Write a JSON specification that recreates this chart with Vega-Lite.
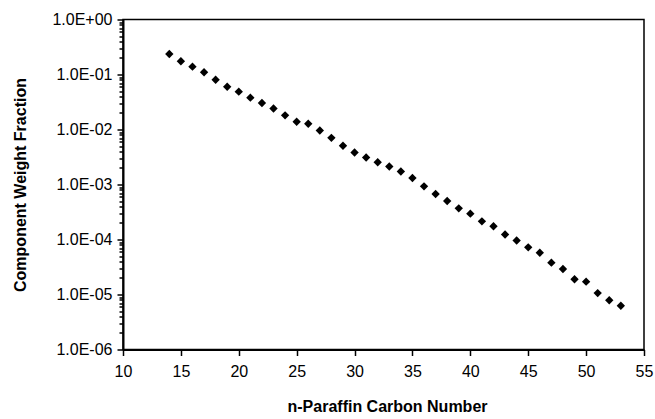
{
  "$schema": "https://vega.github.io/schema/vega-lite/v6.json",
  "width": 521,
  "height": 330,
  "autosize": {"type": "none"},
  "padding": {"left": 123, "top": 19.5, "right": 11, "bottom": 69.5},
  "background": "white",
  "config": {
    "view": {"stroke": "black", "strokeWidth": 1.5},
    "font": "Liberation Sans"
  },
  "data": {
    "values": [
      {"n": 14, "w": 0.236}, {"n": 15, "w": 0.174}, {"n": 16, "w": 0.139},
      {"n": 17, "w": 0.110}, {"n": 18, "w": 0.0804}, {"n": 19, "w": 0.060},
      {"n": 20, "w": 0.0487}, {"n": 21, "w": 0.0379}, {"n": 22, "w": 0.0303},
      {"n": 23, "w": 0.0241}, {"n": 24, "w": 0.0181}, {"n": 25, "w": 0.01386},
      {"n": 26, "w": 0.01274}, {"n": 27, "w": 0.00959}, {"n": 28, "w": 0.00706},
      {"n": 29, "w": 0.00507}, {"n": 30, "w": 0.00382}, {"n": 31, "w": 0.00310},
      {"n": 32, "w": 0.00254}, {"n": 33, "w": 0.00212}, {"n": 34, "w": 0.00172},
      {"n": 35, "w": 0.00131}, {"n": 36, "w": 0.000927}, {"n": 37, "w": 0.000671},
      {"n": 38, "w": 0.000501}, {"n": 39, "w": 0.000369}, {"n": 40, "w": 0.000295},
      {"n": 41, "w": 0.000214}, {"n": 42, "w": 0.000174}, {"n": 43, "w": 0.000123},
      {"n": 44, "w": 0.0000959}, {"n": 45, "w": 0.0000721}, {"n": 46, "w": 0.0000575},
      {"n": 47, "w": 0.0000379}, {"n": 48, "w": 0.0000291}, {"n": 49, "w": 0.0000189},
      {"n": 50, "w": 0.0000171}, {"n": 51, "w": 0.0000106}, {"n": 52, "w": 0.00000785},
      {"n": 53, "w": 0.00000625}
    ]
  },
  "mark": {"type": "point", "shape": "diamond", "filled": true, "color": "black", "size": 70, "opacity": 1},
  "encoding": {
    "x": {
      "field": "n",
      "type": "quantitative",
      "scale": {"domain": [10, 55], "nice": false, "zero": false},
      "axis": {
        "title": "n-Paraffin Carbon Number",
        "values": [10, 15, 20, 25, 30, 35, 40, 45, 50, 55],
        "grid": false,
        "domainColor": "black",
        "domainWidth": 2,
        "tickColor": "black",
        "tickWidth": 1.5,
        "tickSize": 6,
        "labelFontSize": 16,
        "labelColor": "black",
        "labelPadding": 8,
        "labelFlush": false,
        "labelOverlap": false,
        "titleFontSize": 16,
        "titleFontWeight": "bold",
        "titleColor": "black",
        "titleX": 264,
        "titleY": 49,
        "titleBaseline": "top",
        "titleAlign": "center"
      }
    },
    "y": {
      "field": "w",
      "type": "quantitative",
      "scale": {"type": "log", "domain": [0.000001, 1], "nice": false},
      "axis": {
        "title": "Component Weight Fraction",
        "values": [0.000001, 0.000002, 0.000003, 0.000004, 0.000005, 0.000006, 0.000007, 0.000008, 0.000009,
                   0.00001, 0.00002, 0.00003, 0.00004, 0.00005, 0.00006, 0.00007, 0.00008, 0.00009,
                   0.0001, 0.0002, 0.0003, 0.0004, 0.0005, 0.0006, 0.0007, 0.0008, 0.0009,
                   0.001, 0.002, 0.003, 0.004, 0.005, 0.006, 0.007, 0.008, 0.009,
                   0.01, 0.02, 0.03, 0.04, 0.05, 0.06, 0.07, 0.08, 0.09,
                   0.1, 0.2, 0.3, 0.4, 0.5, 0.6, 0.7, 0.8, 0.9, 1],
        "labelExpr": "abs(log(datum.value)/LN10 - round(log(datum.value)/LN10)) < 0.01 ? '1.0E' + (datum.value >= 0.999 ? '+' : '-') + '0' + abs(round(log(datum.value)/LN10)) : ''",
        "grid": false,
        "domainColor": "black",
        "domainWidth": 2,
        "tickColor": "black",
        "tickWidth": 1.5,
        "tickSize": {"condition": {"test": "abs(log(datum.value)/LN10 - round(log(datum.value)/LN10)) < 0.01", "value": 6}, "value": 4},
        "labelFontSize": 16,
        "labelColor": "black",
        "labelPadding": 5,
        "labelFlush": false,
        "labelOverlap": false,
        "titleFontSize": 16,
        "titleFontWeight": "bold",
        "titleColor": "black",
        "titleX": -103,
        "titleY": 165,
        "titleAngle": -90,
        "titleAlign": "center",
        "titleBaseline": "middle"
      }
    }
  }
}
